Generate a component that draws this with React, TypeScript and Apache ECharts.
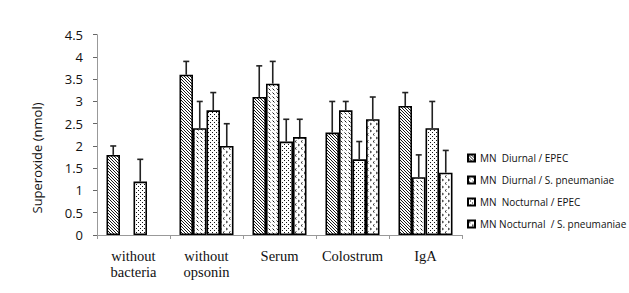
import React, { useEffect, useRef } from "react";
import * as echarts from "echarts";

const categories = ["without\nbacteria", "without\nopsonin", "Serum", "Colostrum", "IgA"];
const seriesNames = [
  "MN  Diurnal / EPEC",
  "MN  Diurnal / S. pneumaniae",
  "MN  Nocturnal / EPEC",
  "MN Nocturnal  / S. pneumaniae",
];
const diurnalEpec = [1.8, 3.6, 3.1, 2.3, 2.9];
const diurnalPneu = [null, 2.4, 3.4, 2.8, 1.3];
const nocturnalEpec = [1.2, 2.8, 2.1, 1.7, 2.4];
const nocturnalPneu = [null, 2.0, 2.2, 2.6, 1.4];
const diurnalEpecErr = [2.0, 3.9, 3.8, 3.0, 3.2];
const diurnalPneuErr = [null, 3.0, 3.9, 3.0, 1.8];
const nocturnalEpecErr = [1.7, 3.2, 2.6, 2.1, 3.0];
const nocturnalPneuErr = [null, 2.5, 2.6, 3.1, 1.9];
const yTicks = [0, 0.5, 1, 1.5, 2, 2.5, 3, 3.5, 4, 4.5];

const values = [diurnalEpec, diurnalPneu, nocturnalEpec, nocturnalPneu];
const errors = [diurnalEpecErr, diurnalPneuErr, nocturnalEpecErr, nocturnalPneuErr];

function svgUrl(w: number, h: number, inner: string) {
  const svg = `<svg xmlns="http://www.w3.org/2000/svg" width="${w}" height="${h}"><rect width="${w}" height="${h}" fill="#fff"/>${inner}</svg>`;
  return "data:image/svg+xml;charset=utf-8," + encodeURIComponent(svg);
}

const patterns = [
  { w: 3, h: 3, inner: '<path d="M0,0 L3,3 M-1,2 L1,4 M2,-1 L4,1" stroke="#000" stroke-width="0.9"/>' },
  { w: 4, h: 4, inner: '<path d="M0.5,0.5 L2.5,2.5" stroke="#000" stroke-width="0.9"/>' },
  {
    w: 4,
    h: 4,
    inner: '<rect x="0" y="0" width="1" height="1" fill="#111"/><rect x="2" y="2" width="1" height="1" fill="#111"/>',
  },
  {
    w: 6,
    h: 7,
    inner: '<path d="M2.5,0.5 L1,1.5 L2.5,2.5 M4,4 L5.5,5 L4,6" stroke="#000" stroke-width="0.8" fill="none"/>',
  },
];

const GAP = 0.26;

export default function App() {
  const ref = useRef<HTMLDivElement>(null);
  useEffect(() => {
    if (!ref.current) return;
    const chart = echarts.init(ref.current, null, { renderer: "svg" });
    const barSeries = values.map((vals, i) => ({
      type: "bar",
      name: seriesNames[i],
      data: vals,
      barGap: "0%",
      barCategoryGap: GAP * 100 + "%",
      itemStyle: {
        color: {
          image: svgUrl(patterns[i].w, patterns[i].h, patterns[i].inner),
          repeat: "repeat",
          imageWidth: patterns[i].w,
          imageHeight: patterns[i].h,
        },
        borderColor: "#000",
        borderWidth: 1.6,
      },
    }));
    const errData: any[] = [];
    values.forEach((vals, i) => {
      vals.forEach((v, c) => {
        const e = errors[i][c];
        if (v != null && e != null) errData.push([c, i, v, e]);
      });
    });
    const errSeries = {
      type: "custom",
      name: "err",
      data: errData,
      encode: { x: 0, y: 3 },
      z: 5,
      renderItem: (params: any, api: any) => {
        const c = api.value(0);
        const i = api.value(1);
        const catW = api.size([1, 0])[0];
        const bw = (catW * (1 - GAP)) / 4;
        const base = api.coord([c, api.value(2)]);
        const top = api.coord([c, api.value(3)]);
        const x = base[0] + (i - 1.5) * bw;
        return {
          type: "group",
          children: [
            {
              type: "line",
              shape: { x1: x, y1: base[1], x2: x, y2: top[1] },
              style: { stroke: "#222", lineWidth: 1.6 },
            },
            {
              type: "line",
              shape: { x1: x - 3, y1: top[1], x2: x + 3, y2: top[1] },
              style: { stroke: "#222", lineWidth: 1.6 },
            },
          ],
        };
      },
    };
    chart.setOption({
      animation: false,
      grid: { left: 97, right: 167, top: 34.7, bottom: 58, containLabel: false },
      legend: {
        data: seriesNames,
        orient: "vertical",
        left: 462,
        top: 148,
        icon: "rect",
        itemWidth: 7,
        itemHeight: 7,
        itemGap: 12,
        textStyle: { fontFamily: "Open Sans", fontSize: 10, color: "#111" },
      },
      xAxis: {
        type: "category",
        data: categories,
        axisLine: { lineStyle: { color: "#999", width: 1 } },
        axisTick: { show: true, length: 4, lineStyle: { color: "#999" } },
        axisLabel: {
          interval: 0,
          fontFamily: "Liberation Serif",
          fontSize: 14.5,
          color: "#111",
          margin: 13,
          lineHeight: 16,
        },
      },
      yAxis: {
        type: "value",
        min: yTicks[0],
        max: yTicks[yTicks.length - 1],
        interval: 0.5,
        splitLine: { show: false },
        axisLine: { show: true, lineStyle: { color: "#999", width: 1 } },
        axisTick: { show: true, length: 4, lineStyle: { color: "#666" } },
        axisLabel: { fontFamily: "Open Sans", fontSize: 13, color: "#111", margin: 14 },
      },
      graphic: [
        {
          type: "text",
          x: 37,
          y: 158,
          rotation: Math.PI / 2,
          style: {
            text: "Superoxide (nmol)",
            font: '13px "Open Sans"',
            fill: "#111",
            align: "center",
            verticalAlign: "middle",
          },
        },
      ],
      series: [...barSeries, errSeries],
    });
    return () => chart.dispose();
  }, []);
  return <div ref={ref} style={{ width: 629, height: 293, position: "absolute", left: 0, top: 0 }} />;
}
